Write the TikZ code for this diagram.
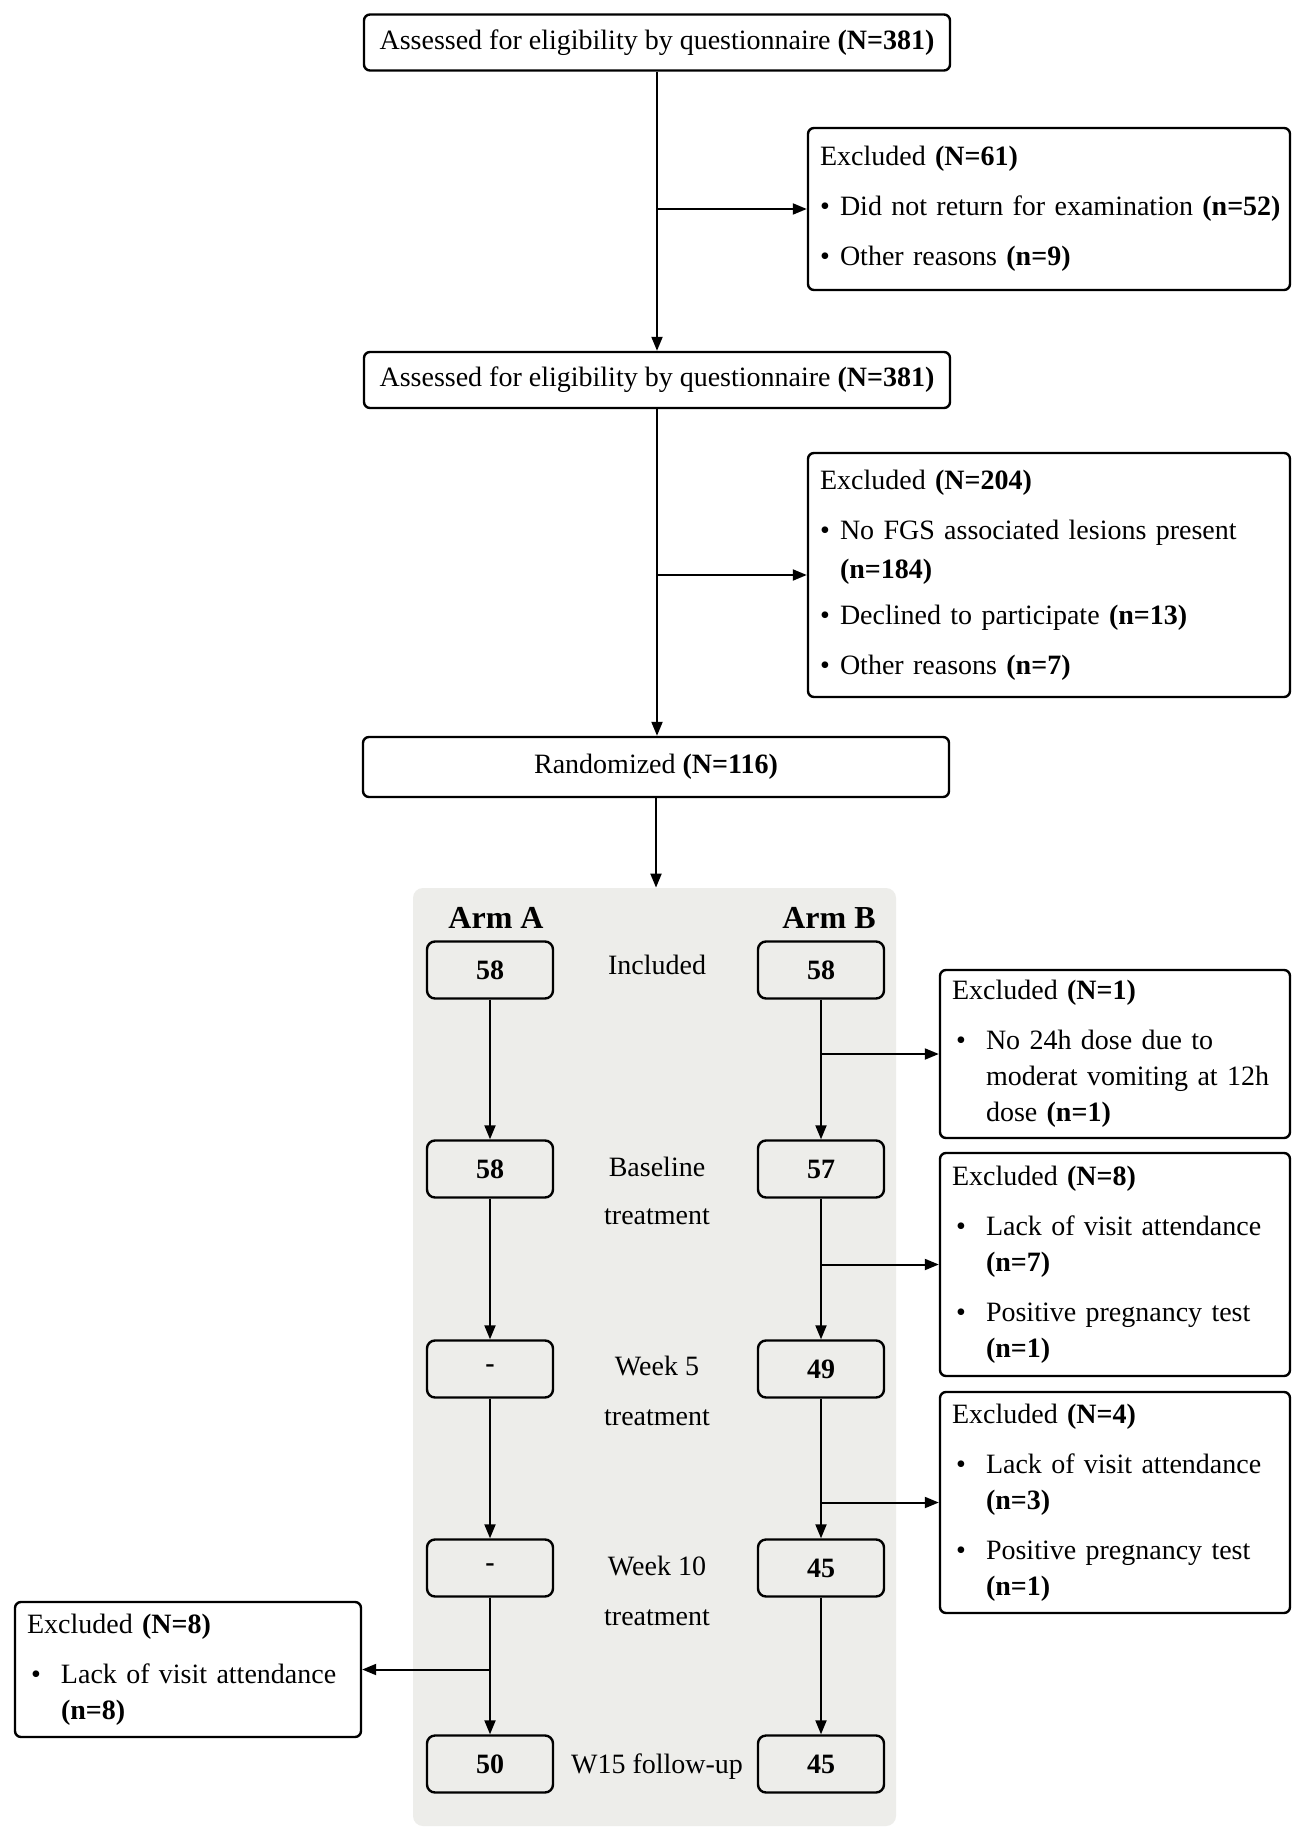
\documentclass[tikz,border=0pt]{standalone}
\usepackage{fontspec}
\setmainfont{Liberation Serif}
\usetikzlibrary{arrows.meta}
\definecolor{panelgray}{RGB}{237,237,234}
\newcommand{\bul}{\makebox[10pt][l]{•}}
\newcommand{\bulB}{\hspace*{2pt}\makebox[15pt][l]{•}}
\newcommand{\cont}{\hspace*{17pt}}
\begin{document}
\begin{tikzpicture}[x=0.5pt,y=-0.5pt,
  every node/.style={font=\fontsize{14}{18}\selectfont, text=black},
  mainbox/.style={draw, line width=1.2pt, rounded corners=3pt, fill=white, minimum width=293pt, minimum height=28pt, inner sep=0pt},
  numbox/.style={draw, line width=1.2pt, rounded corners=4pt, minimum width=63pt, minimum height=28.5pt, inner sep=0pt, font=\fontsize{14}{18}\selectfont\bfseries},
  exbox/.style={draw, line width=1.2pt, rounded corners=3pt, fill=white, align=left, inner xsep=6pt, inner ysep=0pt},
  armlab/.style={font=\fontsize{16}{18}\selectfont\bfseries},
  sidelab/.style={align=center},
  arr/.style={line width=1pt, -{Triangle[length=7pt,width=5.5pt]}},
]
\fill[white] (0,0) rectangle (1299,1839);
\useasboundingbox (0,0) rectangle (1299,1839);

% top part
\node[mainbox] (q1) at (657,42.5) {Assessed for eligibility by questionnaire \textbf{(N=381)}};
\node[mainbox] (q2) at (657,380) {Assessed for eligibility by questionnaire \textbf{(N=381)}};
\node[mainbox, minimum height=30pt] (rand) at (656,767) {Randomized \textbf{(N=116)}};

\node[exbox, text width=229pt, minimum height=81pt] (e1) at (1049,209) {Excluded \textbf{(N=61)}\\[7pt]
\mbox{\bul Did not return for examination \textbf{(n=52)}}\\[7pt]
\mbox{\bul Other reasons \textbf{(n=9)}}};

\node[exbox, text width=229pt, minimum height=122pt] (e2) at (1049,575) {Excluded \textbf{(N=204)}\\[7pt]
\mbox{\bul No FGS associated lesions present}\\[1.5pt]
\hspace*{10pt}\textbf{(n=184)}\\[5pt]
\mbox{\bul Declined to participate \textbf{(n=13)}}\\[7pt]
\mbox{\bul Other reasons \textbf{(n=7)}}};

\draw[arr] (q1.south) -- (q2.north);
\draw[arr] (q1.south |- e1.west) -- (e1.west);
\draw[arr] (q2.south) -- (q2.south |- rand.north);
\draw[arr] (q2.south |- e2.west) -- (e2.west);

% grey panel
\node[fill=panelgray, rounded corners=5pt, minimum width=241.5pt, minimum height=469pt, inner sep=0pt] (grp) at (654.5,1357) {};
\draw[arr] (rand.south) -- (rand.south |- grp.north);

\node[armlab] (armA) at (496,918) {Arm A};
\node[armlab] (armB) at (829,918) {Arm B};

\node[numbox] (a1) at (490,970) {58};
\node[numbox] (a2) at (490,1169) {58};
\node[numbox] (a3) at (490,1369) {-};
\node[numbox] (a4) at (490,1568) {-};
\node[numbox] (a5) at (490,1764) {50};

\node[numbox] (b1) at (821,970) {58};
\node[numbox] (b2) at (821,1169) {57};
\node[numbox] (b3) at (821,1369) {49};
\node[numbox] (b4) at (821,1568) {45};
\node[numbox] (b5) at (821,1764) {45};

\node[sidelab] (l1) at (657,965) {Included};
\node[sidelab] (l2) at (657,1191) {Baseline\\[6pt]treatment};
\node[sidelab] (l3) at (657,1391) {Week 5\\[7pt]treatment};
\node[sidelab] (l4) at (657,1591) {Week 10\\[7pt]treatment};
\node[sidelab] (l5) at (657,1767) {W15 follow-up};

% excluded boxes arm B
\node[exbox, text width=163pt, minimum height=84pt] (e3) at (1115,1054) {Excluded \textbf{(N=1)}\\[7pt]
\mbox{\bulB No 24h dose due to}\\
\mbox{\cont moderat vomiting at 12h}\\
\mbox{\cont dose \textbf{(n=1)}}};

\node[exbox, text width=163pt, minimum height=111.5pt] (e4) at (1115,1264.5) {Excluded \textbf{(N=8)}\\[7pt]
\mbox{\bulB Lack of visit attendance}\\
\cont\textbf{(n=7)}\\[7pt]
\mbox{\bulB Positive pregnancy test}\\
\cont\textbf{(n=1)}};

\node[exbox, text width=163pt, minimum height=110.5pt] (e5) at (1115,1502.5) {Excluded \textbf{(N=4)}\\[7pt]
\mbox{\bulB Lack of visit attendance}\\
\cont\textbf{(n=3)}\\[7pt]
\mbox{\bulB Positive pregnancy test}\\
\cont\textbf{(n=1)}};

\node[exbox, text width=161pt, minimum height=67.5pt] (e6) at (188,1669.5) {Excluded \textbf{(N=8)}\\[7pt]
\mbox{\bulB Lack of visit attendance}\\
\cont\textbf{(n=8)}};

% arm connectors
\draw[arr] (a1.south) -- (a2.north);
\draw[arr] (a2.south) -- (a3.north);
\draw[arr] (a3.south) -- (a4.north);
\draw[arr] (a4.south) -- (a5.north);
\draw[arr] (a4.south |- e6.east) -- (e6.east);

\draw[arr] (b1.south) -- (b2.north);
\draw[arr] (b2.south) -- (b3.north);
\draw[arr] (b3.south) -- (b4.north);
\draw[arr] (b4.south) -- (b5.north);
\draw[arr] (b1.south |- e3.west) -- (e3.west);
\draw[arr] (b2.south |- e4.west) -- (e4.west);
\draw[arr] (b3.south |- e5.west) -- (e5.west);
\end{tikzpicture}
\end{document}
